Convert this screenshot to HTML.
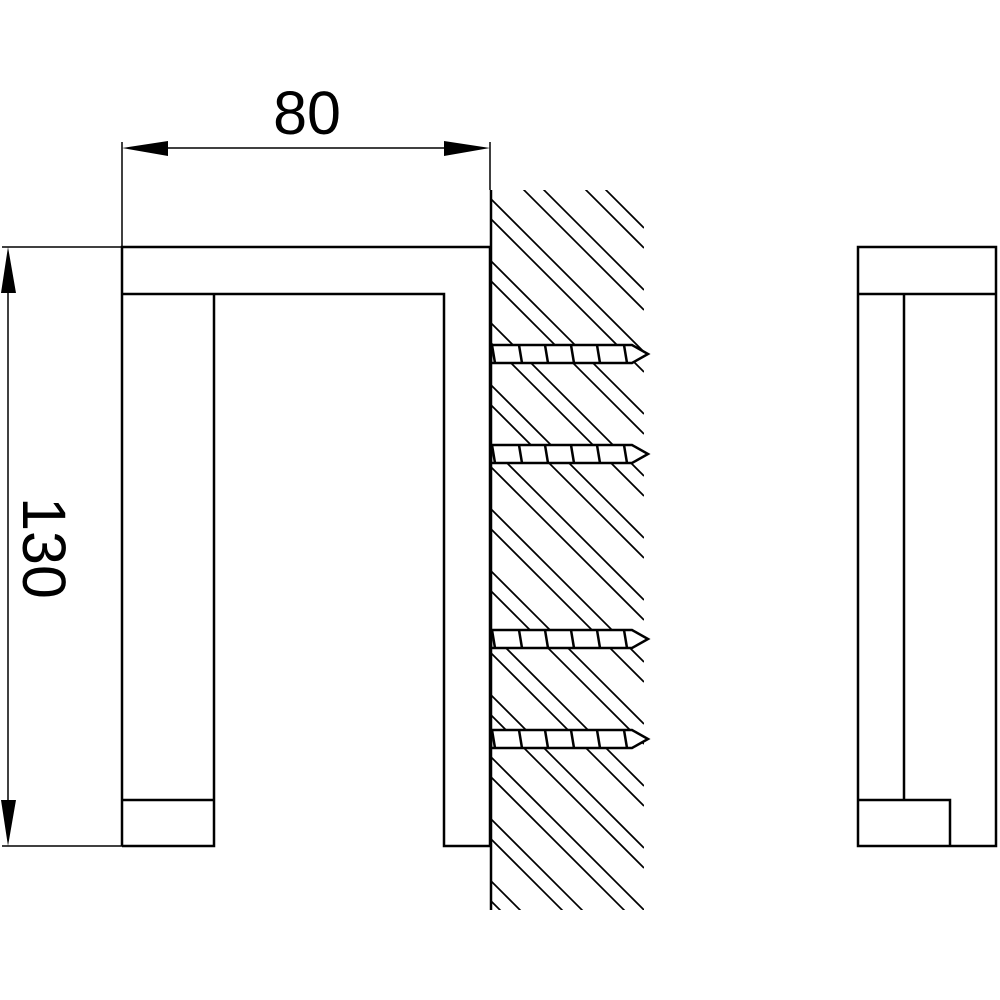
<!DOCTYPE html>
<html><head><meta charset="utf-8"><style>html,body{margin:0;padding:0;background:#fff;width:1000px;height:1000px;overflow:hidden}svg{display:block}</style></head>
<body>
<svg width="1000" height="1000" viewBox="0 0 1000 1000" xmlns="http://www.w3.org/2000/svg">
<defs><clipPath id="c"><rect x="491" y="190" width="153" height="720"/></clipPath></defs>
<g stroke="#000" stroke-width="1.7" clip-path="url(#c)">
<line x1="491" y1="75" x2="644" y2="228"/><line x1="491" y1="137" x2="644" y2="290"/><line x1="491" y1="199" x2="644" y2="352"/><line x1="491" y1="261" x2="644" y2="414"/><line x1="491" y1="323" x2="644" y2="476"/><line x1="491" y1="385" x2="644" y2="538"/><line x1="491" y1="447" x2="644" y2="600"/><line x1="491" y1="509" x2="644" y2="662"/><line x1="491" y1="571" x2="644" y2="724"/><line x1="491" y1="633" x2="644" y2="786"/><line x1="491" y1="695" x2="644" y2="848"/><line x1="491" y1="757" x2="644" y2="910"/><line x1="491" y1="819" x2="644" y2="972"/><line x1="491" y1="881" x2="644" y2="1034"/>
<line x1="491" y1="95" x2="644" y2="248"/><line x1="491" y1="157" x2="644" y2="310"/><line x1="491" y1="219" x2="644" y2="372"/><line x1="491" y1="281" x2="644" y2="434"/><line x1="491" y1="343" x2="644" y2="496"/><line x1="491" y1="405" x2="644" y2="558"/><line x1="491" y1="467" x2="644" y2="620"/><line x1="491" y1="529" x2="644" y2="682"/><line x1="491" y1="591" x2="644" y2="744"/><line x1="491" y1="653" x2="644" y2="806"/><line x1="491" y1="715" x2="644" y2="868"/><line x1="491" y1="777" x2="644" y2="930"/><line x1="491" y1="839" x2="644" y2="992"/><line x1="491" y1="901" x2="644" y2="1054"/>
</g>
<g id="s" fill="#fff" stroke="#000" stroke-width="2.5">
<polygon points="491,345 632,345 648,354 632,363 491,363"/>
<g fill="none"><line x1="492" y1="345" x2="495" y2="363"/><line x1="519" y1="345" x2="522" y2="363"/><line x1="545" y1="345" x2="548" y2="363"/><line x1="571" y1="345" x2="574" y2="363"/><line x1="597" y1="345" x2="600" y2="363"/><line x1="624" y1="345" x2="627" y2="363"/></g>
</g>
<use href="#s" transform="translate(0,100)"/>
<use href="#s" transform="translate(0,285)"/>
<use href="#s" transform="translate(0,385)"/>
<g fill="none" stroke="#000" stroke-width="2.5">
<line x1="491" y1="190" x2="491" y2="910"/>
<polyline points="122,846 122,247 490,247 490,846 444,846 444,294 122,294"/>
<polyline points="122,846 214,846 214,294"/>
<line x1="122" y1="800" x2="214" y2="800"/>
<rect x="858" y="247" width="138" height="599"/>
<line x1="858" y1="294" x2="996" y2="294"/>
<line x1="904" y1="294" x2="904" y2="800"/>
<polyline points="858,800 950,800 950,846"/>
</g>
<g stroke="#000" stroke-width="1.5">
<line x1="122" y1="142" x2="122" y2="247"/>
<line x1="490" y1="142" x2="490" y2="190"/>
<line x1="160" y1="148" x2="455" y2="148"/>
<line x1="2" y1="247" x2="122" y2="247"/>
<line x1="2" y1="846" x2="122" y2="846"/>
<line x1="8" y1="285" x2="8" y2="810"/>
</g>
<g fill="#000">
<polygon points="122,148 168,141 168,156"/>
<polygon points="490,148 444,141 444,156"/>
<polygon points="8,247 1,293 16,293"/>
<polygon points="8,846 1,800 16,800"/>
</g>
<text x="307" y="134" font-family="Liberation Sans, sans-serif" font-size="61" text-anchor="middle">80</text>
<text transform="translate(23,548) rotate(90)" font-family="Liberation Sans, sans-serif" font-size="61" text-anchor="middle">130</text>
</svg>
</body></html>
